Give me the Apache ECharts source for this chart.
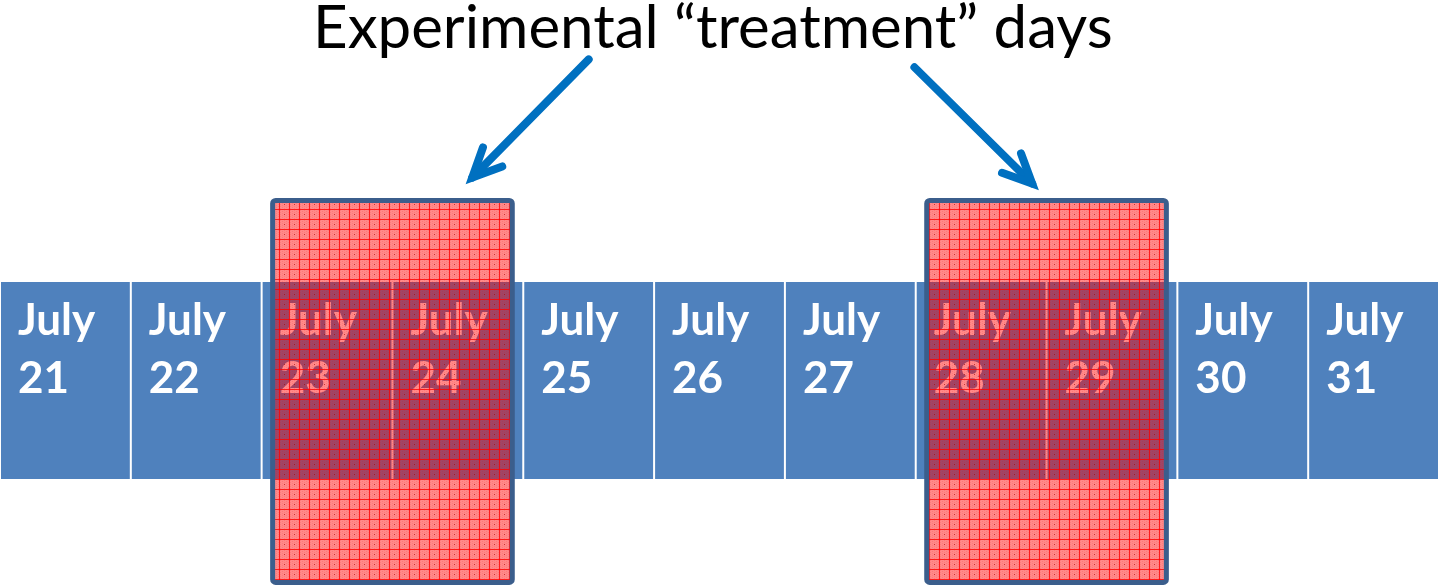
<!DOCTYPE html>
<html>
<head>
<meta charset="utf-8">
<title>Experimental treatment days</title>
<script src="https://cdn.jsdelivr.net/npm/echarts@6/dist/echarts.min.js"></script>
<style>
    html, body { margin: 0; padding: 0; background: #fff; }
    #chart { width: 1439px; height: 587px; }
</style>
</head>
<body>
<div id="chart"></div>
<script>
// 月份 + 日期
var monthName = 'July';
var dayNumbers = ['21', '22', '23', '24', '25', '26', '27', '28', '29', '30', '31'];
// 实验处理日 (dayNumbers 中的起止)
var treatmentRanges = [['23', '24'], ['28', '29']];
// 标题
var titleText = 'Experimental \u201ctreatment\u201d days';
// 箭头 [起点x, 起点y, 终点x, 终点y] (x: 天, y: 格子高度)
var arrowLinks = [
    [4.50, 2.13, 3.61, 1.53],
    [6.99, 2.09, 7.89, 1.50]
];

var cellColor = '#4F81BD';
var boxBorder = '#3B5E8C';
var arrowColor = '#0070C0';

// 红色网格填充
function makeGridPattern() {
    var size = 10;
    var c = document.createElement('canvas');
    c.width = size;
    c.height = size;
    var ctx = c.getContext('2d');
    ctx.fillStyle = 'rgba(255,0,0,0.46)';
    ctx.fillRect(0, 0, size, size);
    // 细小点阵
    ctx.fillStyle = 'rgba(255,0,0,0.12)';
    for (var i = 0; i < size; i += 2) {
        for (var j = (i / 2) % 2; j < size; j += 2) {
            ctx.fillRect(i, j, 1, 1);
        }
    }
    ctx.fillStyle = 'rgba(255,0,0,0.8)';
    ctx.fillRect(size - 1, 0, 1, size);
    ctx.fillRect(0, size - 1, size, 1);
    ctx.fillStyle = 'rgba(170,0,0,0.6)';
    ctx.fillRect(4, 4, 1, 1);
    return c;
}

var dayData = dayNumbers.map(function (d, i) { return [i, d]; });
var boxData = treatmentRanges.map(function (r) {
    return [dayNumbers.indexOf(r[0]), dayNumbers.indexOf(r[1])];
});

var dom = document.getElementById('chart');
var chart = echarts.init(dom);
var pattern = makeGridPattern();

var option = {
    animation: false,
    title: {
        text: titleText,
        left: 313,
        top: 0,
        padding: 0,
        textStyle: {
            fontFamily: 'Lato',
            fontSize: 60,
            fontWeight: 'normal',
            color: '#000',
            lineHeight: 58
        }
    },
    grid: {
        left: 0,
        right: 0,
        top: 85,
        bottom: 9.5
    },
    xAxis: {
        type: 'value',
        min: 0,
        max: dayNumbers.length,
        show: false
    },
    yAxis: {
        type: 'value',
        min: -0.5,
        max: 2,
        show: false
    },
    series: [
        {
            // 日期格子
            type: 'custom',
            data: dayData,
            z: 1,
            renderItem: function (params, api) {
                var i = api.value(0);
                var p0 = api.coord([i, 1]);
                var p1 = api.coord([i + 1, 0]);
                return {
                    type: 'group',
                    children: [{
                        type: 'rect',
                        shape: { x: p0[0] + 1, y: p0[1], width: p1[0] - p0[0] - 2, height: p1[1] - p0[1] },
                        style: { fill: cellColor }
                    }, {
                        type: 'text',
                        x: p0[0] + 18,
                        y: p0[1] + 10,
                        style: {
                            text: monthName + '\n' + dayNumbers[i],
                            fill: '#fff',
                            font: 'bold 44px Lato',
                            lineHeight: 58,
                            verticalAlign: 'top'
                        }
                    }]
                };
            }
        },
        {
            // 处理日方框
            type: 'custom',
            data: boxData,
            z: 2,
            renderItem: function (params, api) {
                var p0 = api.coord([api.value(0), 1.414]);
                var p1 = api.coord([api.value(1) + 1, -0.525]);
                var inset = 11;
                return {
                    type: 'rect',
                    shape: { x: p0[0] + inset, y: p0[1], width: p1[0] - p0[0] - inset * 2, height: p1[1] - p0[1], r: 3 },
                    style: {
                        fill: { image: pattern, repeat: 'repeat' },
                        stroke: boxBorder,
                        lineWidth: 5
                    }
                };
            }
        },
        {
            // 箭头
            type: 'custom',
            data: arrowLinks,
            z: 3,
            renderItem: function (params, api) {
                var a = api.coord([api.value(0), api.value(1)]);
                var b = api.coord([api.value(2), api.value(3)]);
                var ang = Math.atan2(a[1] - b[1], a[0] - b[0]);
                var len = 32, spread = 25 * Math.PI / 180;
                var h1 = [b[0] + len * Math.cos(ang + spread), b[1] + len * Math.sin(ang + spread)];
                var h2 = [b[0] + len * Math.cos(ang - spread), b[1] + len * Math.sin(ang - spread)];
                var style = { stroke: arrowColor, lineWidth: 8, lineCap: 'round', lineJoin: 'miter', fill: null };
                return {
                    type: 'group',
                    children: [{
                        type: 'line',
                        shape: { x1: a[0], y1: a[1], x2: b[0], y2: b[1] },
                        style: style
                    }, {
                        type: 'polyline',
                        shape: { points: [h1, b, h2] },
                        style: style
                    }]
                };
            }
        }
    ]
};

if (option && typeof option === 'object') {
    chart.setOption(option, true);
}
window.addEventListener('resize', function () {
    chart.resize();
});
</script>
</body>
</html>
